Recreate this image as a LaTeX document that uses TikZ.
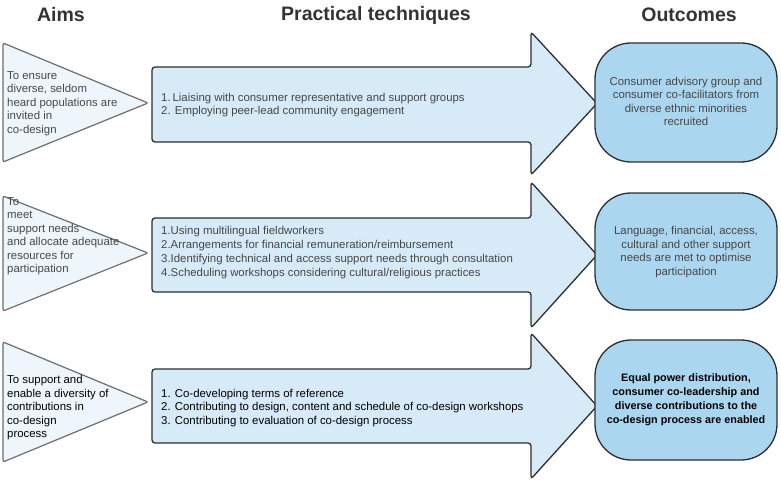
\documentclass[tikz,border=0pt]{standalone}
\usepackage{fontspec}
\setmainfont{Liberation Sans}
\definecolor{trifill}{HTML}{EEF6FC}
\definecolor{tridraw}{HTML}{6E6E6E}
\definecolor{arrfill}{HTML}{D6EAF8}
\definecolor{arrdraw}{HTML}{2E2E2E}
\definecolor{outfill}{HTML}{ABD6EF}
\definecolor{txtgray}{HTML}{474747}
\definecolor{titlegray}{HTML}{333333}
\tikzset{
  aimtri/.style={fill=trifill, draw=tridraw, line width=1.2pt, rounded corners=2pt},
  techarrow/.style={fill=arrfill, draw=arrdraw, line width=1.3pt, rounded corners=3pt},
  outbox/.style={fill=outfill, draw=arrdraw, line width=1.3pt, rounded corners=36pt},
  title/.style={font=\fontsize{19.5}{22}\selectfont\bfseries, text=titlegray, inner sep=0pt},
  aimtext/.style={font=\fontsize{11.4}{13.5}\selectfont, text=txtgray, align=left, anchor=west, inner sep=0pt},
  techtext/.style={font=\fontsize{11.4}{13.8}\selectfont, text=txtgray, align=left, anchor=west, inner sep=0pt},
  outtext/.style={font=\fontsize{11.4}{13.6}\selectfont, text=txtgray, align=center, inner sep=0pt},
}
\begin{document}
\begin{tikzpicture}[x=1pt,y=-1pt]
\useasboundingbox (0,0) rectangle (781,481);
% titles
\node[title] (t1) at (61,15) {Aims};
\node[title] (t2) at (376,15) {Practical techniques};
\node[title] (t3) at (689,15) {Outcomes};

% row 1
\draw[aimtri] (3,43) -- (148,103) -- (3,162) -- cycle;
\draw[techarrow] (152,67) -- (531,67) -- (531,32) -- (597,103.5) -- (531,175) -- (531,142) -- (152,142) -- cycle;
\draw[outbox] (595,43) rectangle (777,162);
\node[aimtext] (a1) at (7,103.5) {To ensure\\diverse, seldom\\heard populations are\\invited in\\co-design};
\node[techtext] (p1) at (161,105) {1.\,Liaising with consumer representative and support groups\\2. Employing peer-lead community engagement};
\node[outtext] (o1) at (686,101.5) {Consumer advisory group and\\consumer co-facilitators from\\diverse ethnic minorities\\recruited};

% row 2
\draw[aimtri] (3,196) -- (148,253) -- (3,311) -- cycle;
\draw[techarrow] (152,218) -- (531,218) -- (531,182) -- (597,255) -- (531,328) -- (531,292) -- (152,292) -- cycle;
\draw[outbox] (595,193) rectangle (777,310);
\node[aimtext] (a2) at (7,236.5) {To\\meet\\support needs\\and allocate adequate\\resources for\\participation};
\node[techtext] (p2) at (161,252.5) {1.Using multilingual fieldworkers\\2.Arrangements for financial remuneration/reimbursement\\3.Identifying technical and access support needs through consultation\\4.Scheduling workshops considering cultural/religious practices};
\node[outtext] (o2) at (686,252) {Language, financial, access,\\cultural and other support\\needs are met to optimise\\participation};

% row 3
\draw[aimtri] (3,342) -- (148,402) -- (3,462) -- cycle;
\draw[techarrow] (152,369) -- (531,369) -- (531,333) -- (597,406) -- (531,479) -- (531,443) -- (152,443) -- cycle;
\draw[outbox] (595,340) rectangle (777,460);
\node[aimtext, text=black] (a3) at (7,408) {To support and\\enable a diversity of\\contributions in\\co-design\\process};
\node[techtext, text=black] (p3) at (161,408) {1. Co-developing terms of reference\\2. Contributing to design, content and schedule of co-design workshops\\3. Contributing to evaluation of co-design process};
\node[outtext, text=black, font=\fontsize{10.8}{14}\selectfont\bfseries] (o3) at (686,400) {Equal power distribution,\\consumer co-leadership and\\diverse contributions to the\\co-design process are enabled};
\end{tikzpicture}
\end{document}
